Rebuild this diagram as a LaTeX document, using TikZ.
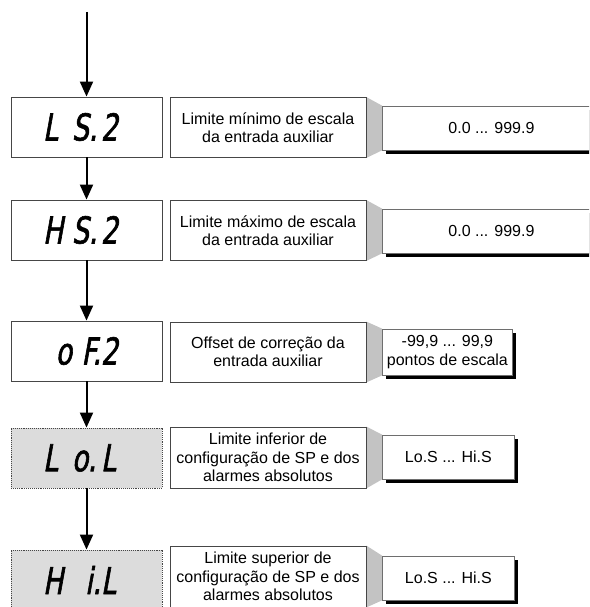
\documentclass[tikz,border=0pt]{standalone}
\usepackage{fontspec}
\setmainfont{Liberation Sans}
\newfontfamily\segfont[FakeStretch=0.72,FakeSlant=0.18,FakeBold=1.6]{DejaVu Sans}
\usetikzlibrary{arrows.meta,shadows}
\pgfdeclarelayer{bg}
\pgfsetlayers{bg,main}
\definecolor{lineg}{RGB}{70,70,70}
\definecolor{valline}{RGB}{110,110,110}
\definecolor{connfill}{RGB}{195,195,195}
\definecolor{dispfill}{RGB}{220,220,220}
\newcommand{\sgc}[2][l]{\makebox[29pt][#1]{#2}}
\begin{document}
\begin{tikzpicture}[x=1pt,y=-1pt,
  disp/.style={draw=lineg, line width=0.9pt, minimum width=151pt, minimum height=60pt, inner sep=0pt,
    font=\segfont\fontsize{37}{37}\selectfont},
  dispg/.style={disp, fill=dispfill, densely dotted},
  desc/.style={draw=lineg, line width=0.8pt, fill=white, minimum width=196pt, minimum height=60pt,
    align=center, inner sep=0pt, font=\fontsize{16}{18.3}\selectfont},
  val/.style={draw=valline, line width=0.8pt, fill=white, minimum height=44pt, anchor=west,
    align=center, inner sep=0pt, font=\fontsize{16}{18.3}\selectfont,
    drop shadow={shadow xshift=4pt, shadow yshift=-4pt, fill=black, opacity=1}},
  arr/.style={line width=2pt, -{Triangle[length=15pt,width=13pt]}},
  conn/.style={fill=connfill}
]
\useasboundingbox (0,0) rectangle (589,607);
\clip (0,0) rectangle (589,607);

% display boxes
\node[disp]  (d1) at (86.5,127) {\sgc{L}\sgc{S.}\sgc{2}};
\node[disp]  (d2) at (86.5,230) {\sgc{H}\sgc{S.}\sgc{2}};
\node[disp]  (d3) at (86.5,351) {\sgc[r]{o}\sgc[r]{F.}\sgc{2}};
\node[dispg] (d4) at (86.5,458) {\sgc{L}\sgc{o.}\sgc{L}};
\node[dispg] (d5) at (86.5,580) {\sgc{H}\sgc[r]{ i.}\sgc{L}};

% descriptions
\node[desc] (t1) at (268,127.5) {Limite mínimo de escala\\da entrada auxiliar};
\node[desc] (t2) at (268,230.5) {Limite máximo de escala\\da entrada auxiliar};
\node[desc] (t3) at (268,352) {Offset de correção da\\entrada auxiliar};
\node[desc, minimum height=61pt] (t4) at (268,457.5) {Limite inferior de\\configuração de SP e dos\\alarmes absolutos};
\node[desc, minimum height=61pt] (t5) at (268,576.5) {Limite superior de\\configuração de SP e dos\\alarmes absolutos};

% values
\node[val, minimum width=218pt] (v1) at (382,128) {0.0 ... 999.9};
\node[val, minimum width=218pt] (v2) at (382,231) {0.0 ... 999.9};
\node[val, minimum width=130pt, minimum height=46pt] (v3) at (382,352) {-99,9 ... 99,9\\pontos de escala};
\node[val, minimum width=132pt] (v4) at (382,457) {Lo.S ... Hi.S};
\node[val, minimum width=132pt] (v5) at (382,578) {Lo.S ... Hi.S};

% connectors (gray trapezoids)
\begin{pgfonlayer}{bg}
\foreach \i in {1,...,5}{
  \fill[conn] (t\i.north east) -- (v\i.north west) -- (v\i.south west) -- (t\i.south east) -- cycle;
}
\end{pgfonlayer}

% arrows
\coordinate (top) at (86.5,12);
\draw[arr] (top) -- (d1.north);
\draw[arr] (d1.south) -- (d2.north);
\draw[arr] (d2.south) -- (d3.north);
\draw[arr] (d3.south) -- (d4.north);
\draw[arr] (d4.south) -- (d5.north);
\end{tikzpicture}
\end{document}
